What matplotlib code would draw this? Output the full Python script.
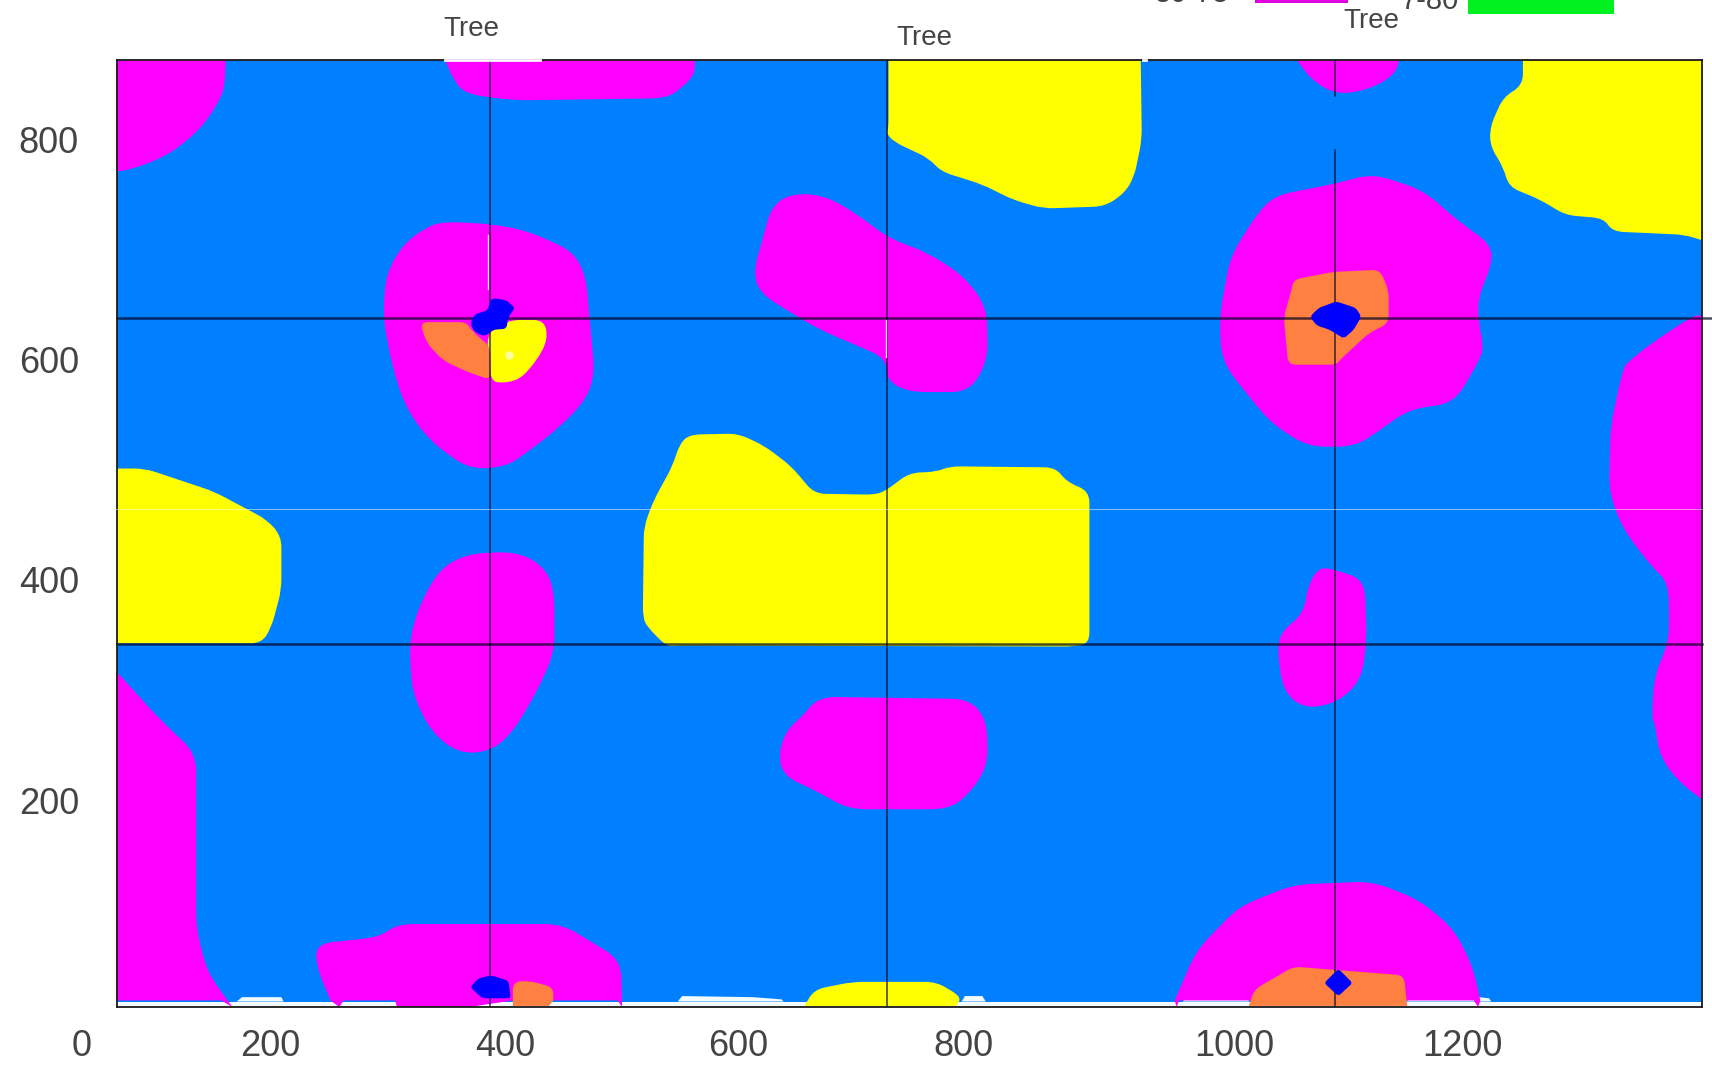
import matplotlib
matplotlib.use("Agg")
import matplotlib.pyplot as plt
from matplotlib.patches import PathPatch
from matplotlib.path import Path

# chart units: x grows right from the "0" label, y grows up from the bottom label line
BLUE = "#0080ff"
MAGENTA = "#ff00ff"
YELLOW = "#ffff00"
ORANGE = "#ff8040"
DARKBLUE = "#0000ff"
GREEN = "#00f020"

magenta_regions = [
    [(107, 55), (207, 55), (206, 80), (201, 92), (190, 110), (179, 122), (165, 134), (151, 143), (135, 150), (116, 156), (107, 157)],
    [(408, 55), (637, 55), (636, 69), (625, 80), (611, 90), (470, 92), (426, 86), (415, 72)],
    [(406, 203), (449, 205), (482, 211), (525, 230), (537, 253), (540, 290), (545, 342), (537, 366), (513, 391), (482, 415), (464, 427),
     (434, 430), (412, 418), (388, 397), (370, 369), (359, 333), (351, 290), (354, 250), (370, 223), (391, 208)],
    [(725, 177), (756, 179), (788, 198), (812, 217), (851, 232), (883, 253), (904, 281), (905, 330), (888, 359), (832, 359), (812, 348),
     (812, 328), (749, 301), (721, 284), (697, 269), (690, 250), (700, 214), (707, 189)],
    [(1188, 55), (1282, 55), (1277, 69), (1254, 82), (1224, 87), (1201, 73)],
    [(1257, 159), (1303, 174), (1339, 205), (1365, 223), (1367, 241), (1354, 272), (1354, 293), (1359, 318), (1355, 330), (1332, 369),
     (1290, 375), (1264, 394), (1241, 409), (1198, 409), (1165, 388), (1139, 357), (1119, 330), (1117, 290), (1127, 235), (1152, 195),
     (1168, 179), (1224, 168)],
    [(1559, 289), (1551, 289), (1513, 314), (1493, 330), (1487, 336), (1475, 391), (1474, 452), (1487, 485), (1513, 519), (1528, 533),
     (1529, 568), (1528, 589), (1515, 620), (1513, 659), (1516, 662), (1520, 693), (1539, 717), (1559, 732)],
    [(449, 505), (480, 507), (501, 522), (508, 543), (508, 598), (491, 635), (470, 670), (450, 688), (420, 690), (395, 670), (378, 635),
     (375, 590), (382, 560), (400, 525), (420, 510)],
    [(1208, 519), (1224, 522), (1250, 531), (1252, 586), (1247, 623), (1224, 644), (1194, 649), (1175, 632), (1170, 592), (1175, 577),
     (1194, 562), (1198, 537)],
    [(107, 615), (147, 659), (180, 690), (180, 850), (190, 890), (213, 922), (203, 916), (107, 916)],
    [(750, 638), (888, 640), (904, 659), (905, 702), (886, 729), (868, 741), (777, 741), (746, 723), (718, 711), (713, 690), (721, 668), (735, 656)],
    [(290, 864), (348, 858), (364, 846), (515, 846), (569, 879), (570, 922), (566, 916), (507, 916), (470, 916), (430, 922), (364, 922),
     (362, 916), (315, 916), (311, 922), (303, 916), (290, 885)],
    [(1076, 916), (1096, 870), (1135, 830), (1185, 810), (1257, 807), (1300, 824), (1332, 851), (1349, 885), (1356, 916), (1354, 922),
     (1350, 916), (1080, 916), (1078, 922)],
]
yellow_regions = [
    [(814, 55), (1045, 55), (1046, 128), (1039, 162), (1030, 177), (1012, 189), (956, 191), (928, 183), (900, 169), (862, 157), (851, 145),
     (819, 130), (812, 122), (814, 118)],
    [(1395, 55), (1559, 55), (1559, 220), (1543, 215), (1477, 212), (1469, 200), (1434, 197), (1411, 183), (1382, 171), (1377, 153),
     (1365, 134), (1365, 116), (1377, 89), (1395, 78)],
    [(107, 429), (133, 429), (196, 450), (245, 476), (258, 491), (258, 540), (249, 574), (240, 589), (107, 589)],
    [(632, 398), (676, 397), (700, 408), (725, 427), (746, 452), (802, 453), (812, 449), (833, 433), (858, 432), (870, 427), (967, 428),
     (977, 441), (998, 450), (998, 589), (984, 592), (621, 591), (611, 592), (593, 574), (589, 565), (590, 482), (599, 458), (616, 427), (623, 406)],
    [(447, 304), (467, 293), (499, 293), (502, 311), (492, 330), (476, 348), (458, 351), (450, 348), (447, 327)],
    [(737, 921), (746, 906), (781, 899), (858, 899), (881, 913), (876, 921)],
]
orange_regions = [
    [(385, 295), (427, 295), (431, 301), (440, 310), (449, 317), (450, 348), (427, 340), (406, 330), (391, 314)],
    [(1185, 256), (1221, 249), (1264, 247), (1272, 266), (1272, 296), (1254, 305), (1227, 330), (1224, 334), (1180, 334), (1176, 290), (1183, 266)],
    [(470, 899), (485, 898), (507, 904), (507, 916), (503, 921), (470, 921)],
    [(1144, 921), (1149, 906), (1185, 885), (1286, 893), (1289, 921)],
]
darkblue_regions = [
    [(452, 273), (464, 275), (472, 282), (466, 290), (464, 301), (452, 302), (444, 308), (435, 304), (431, 296), (435, 288), (447, 284), (449, 276)],
    [(1224, 276), (1242, 282), (1247, 290), (1240, 302), (1231, 310), (1218, 302), (1206, 298), (1200, 290), (1208, 282)],
    [(450, 893), (466, 898), (468, 914), (442, 914), (431, 904), (438, 896)],
    [(1226, 887), (1239, 900), (1226, 912), (1213, 900)],
]
white_bumps = [
    [(217, 917), (222, 913), (258, 913), (260, 917)],
    [(621, 917), (625, 912), (690, 913), (716, 915), (718, 917)],
    [(881, 917), (884, 912), (900, 912), (903, 917)],
    [(1083, 917), (1090, 912), (1144, 912), (1144, 917)],
    [(1288, 917), (1295, 912), (1345, 912), (1364, 914), (1366, 917)],
]

v_lines = [(449, 55, 922), (813, 55, 922), (1223, 55, 88), (1223, 137, 922)]
h_lines = [(291, 1568), (590, 1559)]
white_dashes = [(447, 215, 447, 265), (812, 293, 812, 327)]
top_gaps = [(408, 495), (1047, 1050)]

y_ticks = [202, 404, 606, 807]
y_labels = ["200", "400", "600", "800"]
x_label_pos = [0, 173, 388, 601, 808, 1056, 1265]
x_labels = ["0", "200", "400", "600", "800", "1000", "1200"]
tree_pos = [(432, 25), (847, 33), (1256, 17)]

FONT = "Liberation Sans"
TEXT_COLOR = "#444444"


def conv(pts):
    # pts are picture readings (x, y from top), chart units are offset from them
    return [(x - 75, 935 - y) for x, y in pts]


def on_frame(x, y):
    return x <= 107 or x >= 1559 or y <= 55 or y >= 916


def blob(pts, radius=16):
    # polygon with its corners rounded off, corners on the frame stay sharp
    n = len(pts)
    verts, codes = [], []
    for i in range(n):
        px, py = pts[i - 1]
        cx, cy = pts[i]
        nx, ny = pts[(i + 1) % n]
        if on_frame(cx, cy):
            verts.append((cx, cy))
            codes.append(Path.LINETO)
            continue
        d0 = max(((cx - px) ** 2 + (cy - py) ** 2) ** 0.5, 1e-6)
        d1 = max(((nx - cx) ** 2 + (ny - cy) ** 2) ** 0.5, 1e-6)
        r0 = min(radius, d0 / 2) / d0
        r1 = min(radius, d1 / 2) / d1
        verts += [(cx + (px - cx) * r0, cy + (py - cy) * r0), (cx, cy), (cx + (nx - cx) * r1, cy + (ny - cy) * r1)]
        codes += [Path.LINETO, Path.CURVE3, Path.CURVE3]
    codes[0] = Path.MOVETO
    verts.append(verts[0])
    codes.append(Path.CLOSEPOLY)
    return Path(conv(verts), codes)


fig = plt.figure(figsize=(17.12, 10.7), dpi=100)
ax = fig.add_axes([116.5 / 1712, 1 - 1007 / 1070, (1702 - 116.5) / 1712, (1007 - 60) / 1070])
ax.set_xlim(32, 1484)
ax.set_ylim(13, 880)
ax.set_facecolor(BLUE)

# pale strip that runs along the bottom edge
ax.fill_between([32, 1484], 13, 18, color="#f4fbff", lw=0, zorder=1)
for pts in white_bumps:
    ax.fill(*zip(*conv(pts)), color="#f4fbff", lw=0, zorder=1)

for regions, colour, z, rad in [
    (magenta_regions, MAGENTA, 2, 16),
    (yellow_regions, YELLOW, 2.1, 10),
    (orange_regions, ORANGE, 2.2, 7),
    (darkblue_regions, DARKBLUE, 3, 3),
]:
    for pts in regions:
        ax.add_patch(PathPatch(blob(pts, rad), facecolor=colour, lw=0, zorder=z, clip_on=False))

ax.plot(466 - 75, 935 - 325, "o", ms=6, color="#ffffa0", mew=0, zorder=2.5)

for x, y0, y1 in v_lines:
    ax.plot([x - 75, x - 75], [935 - y0, 935 - y1], color="#000020", alpha=0.7, lw=1.2, zorder=2.4)
for y, x_end in h_lines:
    ax.plot([32, x_end - 75], [935 - y, 935 - y], color="#000020", alpha=0.7, lw=1.8, zorder=2.4, clip_on=False)
for x0, y0, x1, y1 in white_dashes:
    ax.plot([x0 - 75, x1 - 75], [935 - y0, 935 - y1], color="#ffd0ff", lw=1.0, zorder=2.6)

# faint scan line across the whole picture
ax.plot([-70, 1484], [935 - 466, 935 - 466], color="white", alpha=0.6, lw=0.6, zorder=2.6, clip_on=False)

for s in ax.spines.values():
    s.set_color("#1a1a1a")
    s.set_linewidth(1.3)
for x0, x1 in top_gaps:
    ax.plot([x0 - 75, x1 - 75], [880, 880], color="#fff4ff", lw=2, zorder=3, clip_on=False)

ax.set_xticks([])
ax.set_yticks(y_ticks)
ax.set_yticklabels(y_labels, family=FONT, fontsize=26, color=TEXT_COLOR)
ax.tick_params(axis="y", length=0, pad=27)

for pos, lab in zip(x_label_pos, x_labels):
    ax.text(pos, -23, lab, family=FONT, fontsize=26, color=TEXT_COLOR, ha="center", va="center", clip_on=False)
for x, y in tree_pos:
    ax.text(x - 75, 935 - y - 2, "Tree", family=FONT, fontsize=20, color=TEXT_COLOR, ha="center", va="center", clip_on=False)

# legend, cut off by the top of the picture
ax.fill([1150 - 75, 1235 - 75, 1235 - 75, 1150 - 75], [935, 935, 932, 932], color="#e000e0", lw=0, clip_on=False)
ax.fill([1345 - 75, 1478 - 75, 1478 - 75, 1345 - 75], [935, 935, 922, 922], color=GREEN, lw=0, clip_on=False)
ax.text(1092 - 75, 933, "50-75", family=FONT, fontsize=21, color=TEXT_COLOR, ha="center", va="baseline", clip_on=False)
ax.text(1310 - 75, 927, "7-80", family=FONT, fontsize=21, color=TEXT_COLOR, ha="center", va="baseline", clip_on=False)

fig.savefig("out.png", dpi=100)
